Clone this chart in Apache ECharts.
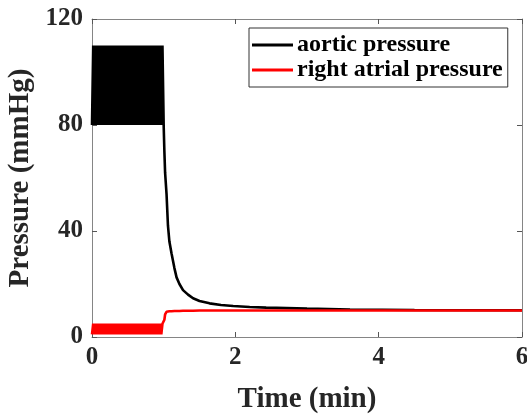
<!DOCTYPE html>
<html lang="en" style="height: 100%">
<head>
  <meta charset="utf-8">
</head>
<body style="height: 100%; margin: 0; background: #fff">
  <div id="container" style="width: 527px; height: 414px"></div>
  <script type="text/javascript" src="https://fastly.jsdelivr.net/npm/echarts@6.0.0/dist/echarts.min.js"></script>
  <script type="text/javascript">
    // first minute: pulsatile phase (time in min)
    var beatTime = [0, 0.017, 0.033, 0.05, 0.067, 0.083, 0.1, 0.117, 0.133, 0.15,
      0.167, 0.183, 0.2, 0.217, 0.233, 0.25, 0.267, 0.283, 0.3, 0.317,
      0.333, 0.35, 0.367, 0.383, 0.4, 0.417, 0.433, 0.45, 0.467, 0.483,
      0.5, 0.517, 0.533, 0.55, 0.567, 0.583, 0.6, 0.617, 0.633, 0.65,
      0.667, 0.683, 0.7, 0.717, 0.733, 0.75, 0.767, 0.783, 0.8, 0.817,
      0.833, 0.85, 0.867, 0.883, 0.9, 0.917, 0.933, 0.95, 0.967, 0.983, 1.0];
    var aorticBeat = [80, 110, 80, 110, 80, 110, 80, 110, 80, 110,
      80, 110, 80, 110, 80, 110, 80, 110, 80, 110,
      80, 110, 80, 110, 80, 110, 80, 110, 80, 110,
      80, 110, 80, 110, 80, 110, 80, 110, 80, 110,
      80, 110, 80, 110, 80, 110, 80, 110, 80, 110,
      80, 110, 80, 110, 80, 110, 80, 110, 80, 110, 80];
    var atrialBeat = [1, 5, 1, 5, 1, 5, 1, 5, 1, 5,
      1, 5, 1, 5, 1, 5, 1, 5, 1, 5,
      1, 5, 1, 5, 1, 5, 1, 5, 1, 5,
      1, 5, 1, 5, 1, 5, 1, 5, 1, 5,
      1, 5, 1, 5, 1, 5, 1, 5, 1, 5,
      1, 5, 1, 5, 1, 5, 1, 5, 1, 5, 5];

    // after arrest: equilibration
    var decayTime = [1.01, 1.02, 1.04, 1.06, 1.08, 1.11, 1.15, 1.18, 1.22, 1.27, 1.34,
      1.41, 1.5, 1.64, 1.8, 1.97, 2.2, 2.43, 3.0, 3.6, 4.5, 6.0];
    var aorticDecay = [70, 62, 54, 42, 36, 31.5, 26, 22.5, 20, 17.7, 16,
      14.6, 13.6, 12.7, 12.1, 11.7, 11.3, 11.1, 10.7, 10.4, 10.2, 10.1];
    var atrialDecay = [6.5, 8.5, 9.5, 9.6, 9.7, 9.7, 9.8, 9.8, 9.8, 9.9, 9.9,
      9.9, 10, 10, 10, 10, 10, 10, 10, 10, 10, 10];

    var seriesNames = ['aortic pressure', 'right atrial pressure'];
    var xTicks = { min: 0, max: 6, interval: 2 };
    var yTicks = { min: 0, max: 120, interval: 40 };

    function pairs(t, v) {
      return t.map(function (x, i) { return [x, v[i]]; });
    }

    var aorticData = pairs(beatTime, aorticBeat).concat(pairs(decayTime, aorticDecay));
    var atrialData = pairs(beatTime, atrialBeat).concat(pairs(decayTime, atrialDecay));

    var font = 'Liberation Serif';
    var axisLine = { show: true, onZero: false, lineStyle: { color: '#858585', width: 1 } };
    var axisTick = { show: true, inside: true, length: 5, lineStyle: { color: '#555' } };

    var chart = echarts.init(document.getElementById('container'), null, { renderer: 'canvas' });
    var option = {
      animation: false,
      backgroundColor: '#fff',
      grid: { left: 92, right: 5, top: 19, bottom: 77, containLabel: false, outerBoundsMode: 'none' },
      legend: {
        orient: 'vertical',
        left: 249,
        top: 28,
        data: seriesNames,
        icon: 'rect',
        itemWidth: 41,
        itemHeight: 3,
        itemGap: 1,
        padding: [5, 5, 5, 3],
        borderColor: '#333',
        borderWidth: 1,
        backgroundColor: '#fff',
        textStyle: { fontFamily: font, fontWeight: 'bold', fontSize: 24, color: '#000', padding: [0, 0, 0, -1] }
      },
      xAxis: [
        {
          type: 'value', min: xTicks.min, max: xTicks.max, interval: xTicks.interval,
          name: 'Time (min)', nameLocation: 'middle', nameGap: 48,
          nameTextStyle: { fontFamily: font, fontWeight: 'bold', fontSize: 29, color: '#262626' },
          axisLine: axisLine, axisTick: axisTick, splitLine: { show: false },
          axisLabel: { fontFamily: font, fontWeight: 'bold', fontSize: 25, color: '#262626', margin: 8 }
        },
        {
          type: 'value', position: 'top', min: xTicks.min, max: xTicks.max, interval: xTicks.interval,
          axisLine: axisLine, axisTick: axisTick, splitLine: { show: false }, axisLabel: { show: false }
        }
      ],
      yAxis: [
        {
          type: 'value', min: yTicks.min, max: yTicks.max, interval: yTicks.interval,
          name: 'Pressure (mmHg)', nameLocation: 'middle', nameGap: 45,
          nameTextStyle: { fontFamily: font, fontWeight: 'bold', fontSize: 29, color: '#262626' },
          axisLine: axisLine, axisTick: axisTick, splitLine: { show: false },
          axisLabel: { fontFamily: font, fontWeight: 'bold', fontSize: 25, color: '#262626', margin: 9 }
        },
        {
          type: 'value', position: 'right', min: yTicks.min, max: yTicks.max, interval: yTicks.interval,
          axisLine: axisLine, axisTick: axisTick, splitLine: { show: false }, axisLabel: { show: false }
        }
      ],
      series: [
        {
          name: seriesNames[0], type: 'line', data: aorticData,
          symbol: 'none', sampling: false, color: '#000',
          lineStyle: { color: '#000', width: 2.6 }
        },
        {
          name: seriesNames[1], type: 'line', data: atrialData,
          symbol: 'none', color: '#f00',
          lineStyle: { color: '#f00', width: 2.6 }
        }
      ]
    };
    chart.setOption(option);
  </script>
</body>
</html>
